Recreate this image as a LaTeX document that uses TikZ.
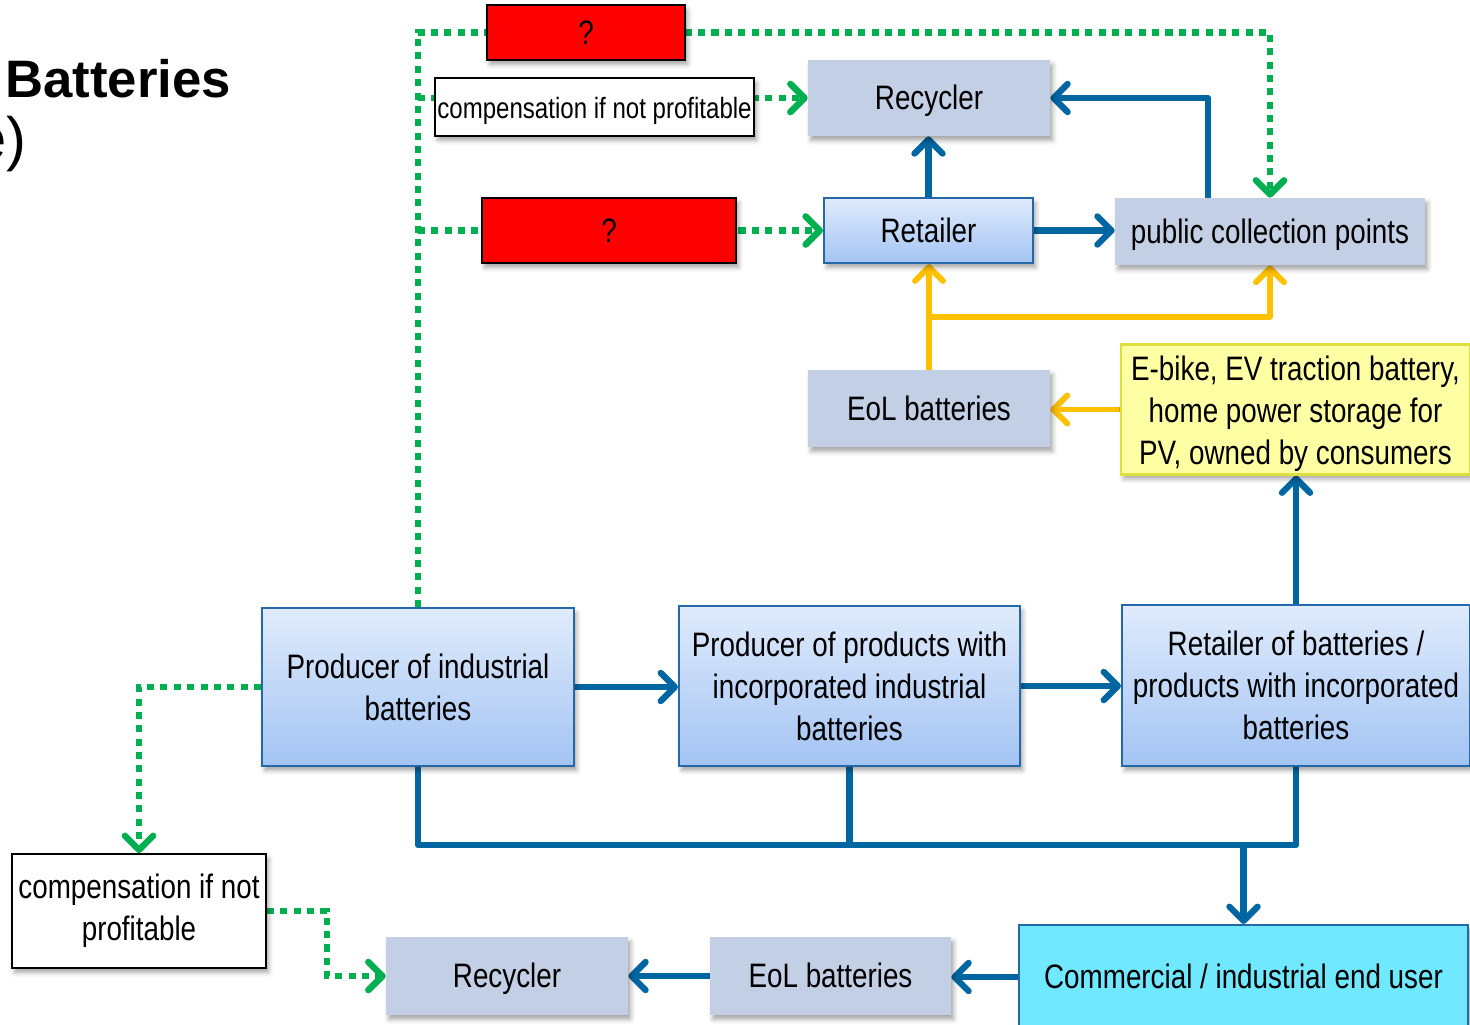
\documentclass[tikz,border=0pt]{standalone}
\usepackage{fontspec}
\setmainfont{Liberation Sans}[FakeStretch=0.82]
\newfontfamily\titlefont{Liberation Sans}
\usetikzlibrary{arrows.meta,shadows.blur}

\definecolor{flowblue}{RGB}{0,102,161}
\definecolor{flowgreen}{RGB}{0,176,80}
\definecolor{floworange}{RGB}{255,192,0}
\definecolor{greyfill}{RGB}{195,207,229}
\definecolor{gradtop}{RGB}{224,235,252}
\definecolor{gradbot}{RGB}{163,196,243}
\definecolor{boxedge}{RGB}{36,104,168}
\definecolor{yellowfill}{RGB}{255,255,163}
\definecolor{yellowedge}{RGB}{222,222,60}
\definecolor{cyanfill}{RGB}{112,232,255}
\definecolor{alertred}{RGB}{255,0,0}

\pgfdeclarelayer{bg}
\pgfsetlayers{bg,main}

\newcommand\boxfont{\fontsize{19.3pt}{23.9pt}\selectfont}
\newcommand\smallboxfont{\fontsize{16.7pt}{20.6pt}\selectfont}

\tikzset{
  sz/.style 2 args={minimum width=#1*0.02cm, minimum height=#2*0.02cm},
  softshadow/.style={blur shadow={shadow xshift=1.5pt, shadow yshift=-2.5pt,
      shadow blur radius=2.5pt, shadow opacity=35}},
  basebox/.style={rectangle, inner sep=0pt, align=center, font=\boxfont,
      text=black, softshadow},
  % single text line: baseline placed as in a full-height text line
  oneline/.style={text height=18.3pt, text depth=4.8pt},
  greybox/.style={basebox, fill=greyfill},
  gradbox/.style={basebox, draw=boxedge, line width=1.2pt,
      top color=gradtop, bottom color=gradbot},
  notebox/.style={basebox, draw=black, line width=1pt, fill=white},
  alertbox/.style={basebox, oneline, draw=black, line width=1pt, fill=alertred},
  owned/.style={basebox, draw=yellowedge, line width=1.2pt, fill=yellowfill},
  enduser/.style={basebox, oneline, draw=boxedge, line width=1.2pt, fill=cyanfill},
  tip/.tip={Straight Barb[round, length=8pt, width=16pt]},
  blueflow/.style={draw=flowblue, line width=3.6pt, line join=round},
  orangeflow/.style={draw=floworange, line width=3.3pt, line join=round},
  greenflow/.style={draw=flowgreen, line width=3.7pt, dash pattern=on 4pt off 3.6pt},
}

\begin{document}
\begin{tikzpicture}[x=0.02cm, y=-0.02cm]
\useasboundingbox (0,0) rectangle (1470,1024);

% heading fragments
\node[anchor=base west, inner sep=0pt,
      font=\titlefont\bfseries\fontsize{30pt}{36pt}\selectfont] (headA) at (5,97) {Batteries};
\node[anchor=base east, inner sep=0pt,
      font=\titlefont\fontsize{34pt}{40pt}\selectfont] (headB) at (27,159) {e)};

% upper part: collection of consumer batteries
\node[alertbox, sz={198}{55}] (askA) at (586,32.5) {?};
\node[notebox, oneline, sz={319}{58}, font=\smallboxfont] (compA) at (594.5,107) {compensation if not profitable};
\node[greybox, oneline, sz={242}{76}] (recycA) at (929,98) {Recycler};
\node[alertbox, sz={254}{65}] (askB) at (609,230.5) {?};
\node[gradbox, oneline, sz={209}{65}] (retail) at (928.5,230.5) {Retailer};
\node[greybox, oneline, sz={310}{67}] (collect) at (1270,231.5) {public collection points};
\node[greybox, oneline, sz={242}{77}] (eolA) at (929,408.5) {EoL batteries};
\node[owned, sz={349}{130}] (owned) at (1295.5,409.5)
  {\rule{0pt}{18.5pt}E-bike, EV traction battery,\\home power storage for\\PV, owned by consumers};

% supply chain
\node[gradbox, sz={312}{158}] (prodA) at (418,687) {Producer of industrial\\batteries};
\node[gradbox, sz={341}{160}] (prodB) at (849.5,686) {Producer of products with\\incorporated industrial\\batteries};
\node[gradbox, sz={348}{161}] (retailB) at (1296,685.5) {Retailer of batteries /\\products with incorporated\\batteries};

% lower part: industrial end users
\node[notebox, sz={254}{114}] (compB) at (139,911) {compensation if not\\profitable};
\node[greybox, oneline, sz={242}{78}] (recycB) at (507,976) {Recycler};
\node[greybox, oneline, sz={241}{78}] (eolB) at (830.5,976) {EoL batteries};
\node[enduser, sz={449}{104}] (user) at (1243.5,977) {Commercial / industrial end user};

\coordinate (bus) at (0,845);
\coordinate (collectTap) at (1208,198);
\coordinate (split) at (0,317);

\begin{pgfonlayer}{bg}
  % green financing paths
  \draw[greenflow, -tip] (prodA.north) |- (collect.north |- askA.center) -- (collect.north);
  \draw[greenflow, -tip] (prodA.north |- recycA.west) -- (recycA.west);
  \draw[greenflow, -tip] (prodA.north |- retail.west) -- (retail.west);
  \draw[greenflow, -tip] (prodA.west) -| (compB.north);
  \draw[greenflow, -tip] (compB.east) -- ++(60,0) |- (recycB.west);

  % blue material flows
  \draw[blueflow, -tip] (prodA.east) -- (prodA.east -| prodB.west);
  \draw[blueflow, -tip] (prodB.east) -- (prodB.east -| retailB.west);
  \draw[blueflow, -tip] (retailB.north) -- (retailB.north |- owned.south);
  \draw[blueflow] (prodA.south) -- (prodA.south |- bus) -- (retailB.south |- bus) -- (retailB.south);
  \draw[blueflow] (prodB.south) -- (prodB.south |- bus);
  \draw[blueflow, -tip] (user.north |- bus) -- (user.north);
  \draw[blueflow, -tip] (user.west) -- (user.west -| eolB.east);
  \draw[blueflow, -tip] (eolB.west) -- (eolB.west -| recycB.east);
  \draw[blueflow, -tip] (retail.north) -- (retail.north |- recycA.south);
  \draw[blueflow, -tip] (retail.east) -- (retail.east -| collect.west);
  \draw[blueflow, -tip] (collectTap) |- (recycA.east);

  % orange flows of end-of-life consumer batteries
  \draw[orangeflow, -tip] (owned.west) -- (owned.west -| eolA.east);
  \draw[orangeflow, -tip] (eolA.north) -- (eolA.north |- retail.south);
  \draw[orangeflow, -tip] (eolA.north |- split) -| (collect.south);
\end{pgfonlayer}
\end{tikzpicture}
\end{document}
